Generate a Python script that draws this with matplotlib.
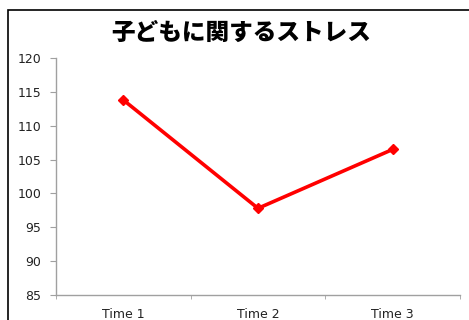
import matplotlib
matplotlib.use('Agg')
import matplotlib.pyplot as plt
from matplotlib.patches import Rectangle

plt.rcParams['font.family'] = ['DejaVu Sans']

title = '子どもに関するストレス'
categories = ['Time 1', 'Time 2', 'Time 3']
stress = [113.8, 97.8, 106.5]
yticks = [85, 90, 95, 100, 105, 110, 115, 120]

fig = plt.figure(figsize=(4.69, 3.2), dpi=100)
# chart frame (cropped on right/bottom)
fig.patches.append(Rectangle((8 / 469, -0.1), 1.2, 1 - 10 / 320 + 0.1,
                             transform=fig.transFigure, fill=False,
                             edgecolor='black', linewidth=1.2))

ax = fig.add_axes([56 / 469, 1 - 295 / 320, (460 - 56) / 469, (295 - 58) / 320])
x = range(len(categories))
ax.plot(x, stress, color='#ff0000', linewidth=2.6, marker='D', markersize=5,
        markeredgecolor='#ff0000', solid_capstyle='round')

ax.set_xlim(-0.5, len(categories) - 0.5)
ax.set_ylim(85, 120)
ax.set_yticks(yticks)
ax.set_xticks(list(x))
ax.set_xticklabels(categories)
ax.set_xticks([i - 0.5 for i in range(len(categories) + 1)], minor=True)
ax.tick_params(axis='x', which='major', length=0, pad=9, labelsize=9,
               labelcolor='#222222')
ax.tick_params(axis='x', which='minor', length=3, color='#a0a0a0', direction='out')
ax.tick_params(axis='y', length=4.5, color='#a0a0a0', labelsize=9, pad=6,
               labelcolor='#222222')

for s in ['top', 'right']:
    ax.spines[s].set_visible(False)
for s in ['left', 'bottom']:
    ax.spines[s].set_color('#a0a0a0')
    ax.spines[s].set_linewidth(1.0)

fig.text(241 / 469, 1 - 33 / 320, title, ha='center', va='center',
         fontsize=17, fontweight='black', family=['Noto Sans CJK JP'])

fig.savefig('out.png', dpi=100)
